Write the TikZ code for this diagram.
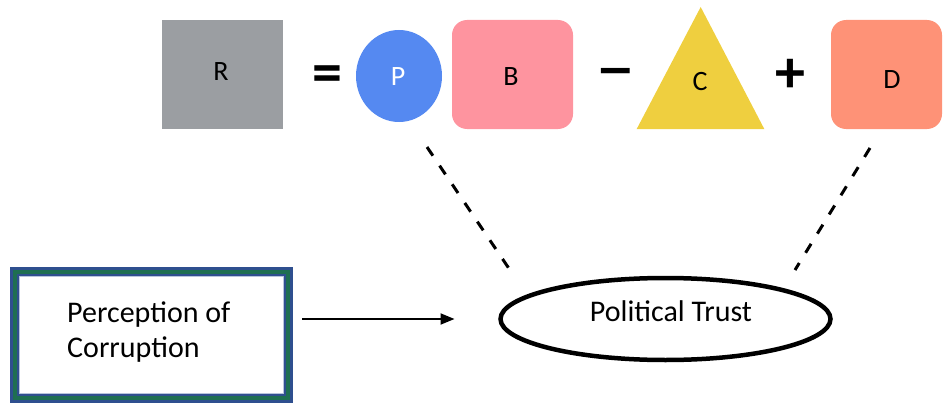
\documentclass[tikz,border=0pt]{standalone}
\usepackage{fontspec}
\setmainfont{Carlito}
\newfontfamily\opfont{DejaVu Sans}
\usetikzlibrary{arrows.meta,shapes.geometric}
\definecolor{rgray}{HTML}{9B9EA2}
\definecolor{pblue}{HTML}{5589F1}
\definecolor{bpink}{HTML}{FE949F}
\definecolor{cyell}{HTML}{EFCF3F}
\definecolor{dsalm}{HTML}{FE9277}
\definecolor{bordblue}{HTML}{2F4F8F}
\definecolor{bordgreen}{HTML}{1F6F52}
\definecolor{bordlight}{HTML}{B8C4DC}
\tikzset{
  bigtxt/.style={font=\fontsize{30}{35}\selectfont, inner sep=0pt},
  lettxt/.style={font=\fontsize{28}{32}\selectfont, inner sep=0pt},
  optxt/.style={font=\bfseries\fontsize{60}{60}\selectfont, inner sep=0pt},
  minustxt/.style={font=\opfont\bfseries\fontsize{46}{46}\selectfont, inner sep=0pt},
  sqbox/.style={rectangle, draw=none, minimum width=121pt, minimum height=109pt, inner sep=0pt, outer sep=0pt},
  dashlink/.style={line width=3pt, dash pattern=on 10.5pt off 12pt},
}
\begin{document}
\begin{tikzpicture}[x=1pt,y=-1pt]
\useasboundingbox (0,0) rectangle (943,404);
% top equation
\node[sqbox, fill=rgray] (R) at (222.5,74.5) {};
\node[lettxt] (Rl) at (221,72) {R};
\node[optxt] (eq) at (327,79) {=};
\node[ellipse, fill=pblue, minimum width=86pt, minimum height=92pt, inner sep=0pt] (P) at (399,76) {};
\node[lettxt, text=white] (Pl) at (398,77) {P};
\node[sqbox, fill=bpink, rounded corners=15pt] (B) at (512.5,74.5) {};
\node[lettxt] (Bl) at (511,77) {B};
\node[minustxt] (mi) at (616,77) {−};
\fill[cyell] (700.7,7) -- (764.3,129) -- (636.7,129) -- cycle;
\node[lettxt] (Cl) at (700,82) {C};
\node[optxt] (pl) at (790,76) {+};
\node[sqbox, fill=dsalm, rounded corners=15pt, minimum width=111pt] (D) at (886.5,74.5) {};
\node[lettxt] (Dl) at (892,80) {D};
% perception box
\node[rectangle, draw=bordblue, line width=9pt, minimum width=274pt, minimum height=127pt, inner sep=0pt, outer sep=0pt] (pc) at (151.5,335) {};
\draw[bordgreen, line width=4pt] ([shift={(0.5,0.5)}]pc.north west) rectangle ([shift={(-0.5,-0.5)}]pc.south east);
\draw[bordlight, line width=1pt] ([shift={(5,5)}]pc.north west) rectangle ([shift={(-5,-5)}]pc.south east);
\node[bigtxt, align=left, anchor=west] (pct) at (67,332) {Perception of\\Corruption};
% political trust
\node[ellipse, draw=black, line width=4.5pt, minimum width=330pt, minimum height=82pt, inner sep=0pt, outer sep=0pt] (pt) at (665.5,319) {};
\node[bigtxt] (ptl) at (671,311.5) {Political Trust};
% arrow
\draw[line width=2pt, -{Triangle[length=14pt,width=11pt]}, shorten <=13.5pt, shorten >=46pt] (pc.east |- pt.west) -- (pt.west);
% dashed links
\coordinate (l1) at (427,147);
\coordinate (l2) at (512,273);
\coordinate (r1) at (870,148);
\coordinate (r2) at (795,270);
\draw[dashlink] (l1) -- (l2);
\draw[dashlink] (r1) -- (r2);
\end{tikzpicture}
\end{document}
